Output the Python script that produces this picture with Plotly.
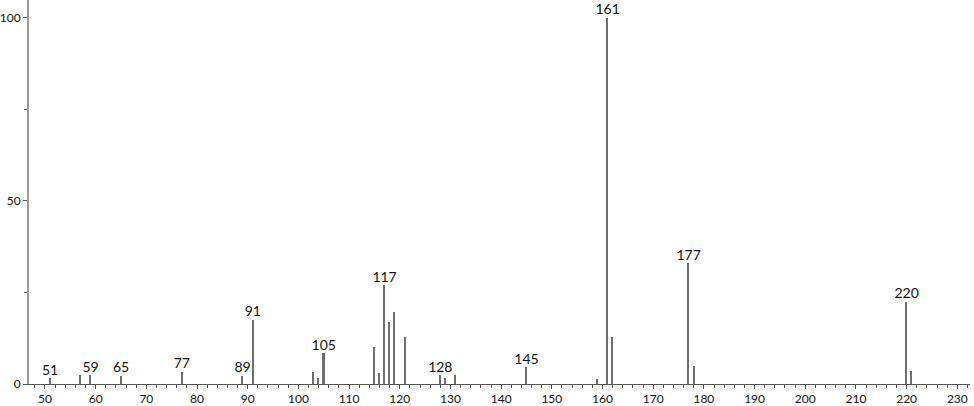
import plotly.graph_objects as go

mz = [51, 57, 59, 65, 77, 89, 91, 103, 104, 105, 115, 116, 117, 118, 119, 121,
      128, 129, 131, 145, 159, 161, 162, 177, 178, 220, 221]
intensity = [1.6, 2.5, 2.4, 2.3, 3.4, 2.2, 17.5, 3.4, 1.6, 8.4, 10.0, 3.1, 27.0, 17.0,
             19.8, 12.8, 2.4, 1.6, 2.4, 4.6, 1.4, 100.0, 12.8, 33.0, 5.0, 22.5, 3.6]
labeled = [51, 59, 65, 77, 89, 91, 105, 117, 128, 145, 161, 177, 220]

x_ticks = list(range(50, 231, 10))
y_ticks = [0, 50, 100]

lab_y = [intensity[mz.index(m)] for m in labeled]
lab_t = [str(m) for m in labeled]

font_family = "Lato, 'DejaVu Sans', sans-serif"

fig = go.Figure()
fig.add_trace(go.Bar(x=mz, y=intensity, width=0.3,
                     marker=dict(color="#6e6e6e", line=dict(width=0)),
                     hoverinfo="x+y"))
fig.add_trace(go.Scatter(x=labeled, y=lab_y, mode="text", text=lab_t,
                         textposition="top center",
                         textfont=dict(family=font_family, size=14, color="#111"),
                         hoverinfo="skip"))

fig.update_layout(
    width=974, height=406,
    margin=dict(l=29, r=4, t=0, b=22, autoexpand=False),
    paper_bgcolor="white", plot_bgcolor="white",
    showlegend=False,
    font=dict(family=font_family, size=14, color="#111"),
    bargap=0,
)
fig.update_xaxes(
    range=[46.85, 232.5], tickvals=x_ticks, ticktext=[str(v) for v in x_ticks],
    ticks="outside", ticklen=4, tickcolor="#555", tickwidth=1,
    showline=True, linecolor="#555", linewidth=1,
    showgrid=False, zeroline=False, automargin=False,
    minor=dict(dtick=2, tick0=0, ticks="outside", ticklen=3, tickcolor="#555", showgrid=False),
    tickfont=dict(size=12), ticklabelstandoff=0,
)
fig.update_yaxes(
    range=[0, 104.9], tickvals=y_ticks, ticktext=[str(v) for v in y_ticks],
    ticks="outside", ticklen=4, tickcolor="#555", tickwidth=1,
    showline=True, linecolor="#999", linewidth=2,
    showgrid=False, zeroline=False, automargin=False,
    minor=dict(dtick=25, tick0=0, ticks="outside", ticklen=3, tickcolor="#555", showgrid=False),
    tickfont=dict(size=12), ticklabelstandoff=0,
)

fig.write_html("out.html", config={"displayModeBar": False},
               post_script="document.body.style.margin='0';document.body.style.overflow='hidden';")
